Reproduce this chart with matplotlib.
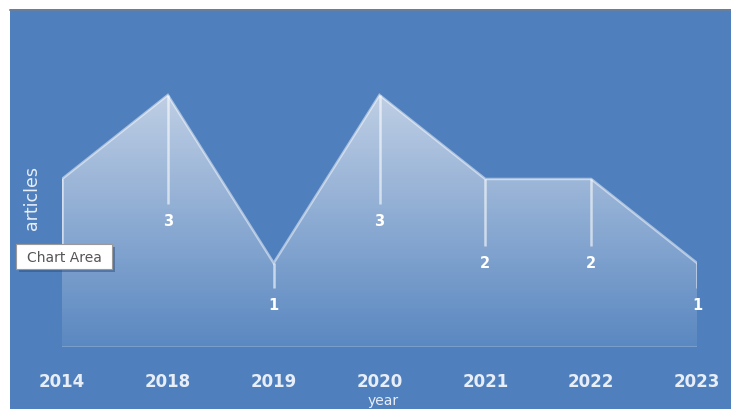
import matplotlib
matplotlib.use("Agg")
import matplotlib.pyplot as plt
import numpy as np
from matplotlib.patches import Rectangle, Polygon

years = ["2014", "2018", "2019", "2020", "2021", "2022", "2023"]
articles = [2, 3, 1, 3, 2, 2, 1]

W, H = 731, 410
fig = plt.figure(figsize=(W / 100, H / 100), dpi=100, facecolor="white")

# blue chart-area background
bg = Rectangle((10 / W, 0), 1 - 10 / W, 1 - 10 / H, transform=fig.transFigure,
               facecolor="#4f80bd", edgecolor="none", zorder=-10)
fig.add_artist(bg)
fig.add_artist(plt.Line2D([10 / W, 1], [1 - 10.5 / H, 1 - 10.5 / H],
                          transform=fig.transFigure, color="#6d7f99", lw=1.2,
                          zorder=-9))

x0, x1 = 62, 697
ybase, ppu = 348, 84
ymax = 3.6
ax = fig.add_axes([x0 / W, (H - ybase) / H, (x1 - x0) / W, ymax * ppu / H])
ax.set_zorder(1)
ax.set_facecolor("none")
ax.set_xlim(0, len(years) - 1)
ax.set_ylim(0, ymax)
for s in ax.spines.values():
    s.set_visible(False)

x = np.arange(len(years))
vals = np.array(articles, dtype=float)

# gradient area fill
verts = [(x[0], 0)] + list(zip(x, vals)) + [(x[-1], 0)]
poly = Polygon(verts, closed=True, facecolor="none", edgecolor="none")
ax.add_patch(poly)
ny = 256
alpha = np.linspace(0.07, 0.68, ny)
img = np.ones((ny, 2, 4))
img[..., 0] = 0.96
img[..., 1] = 0.96
img[..., 2] = 0.97
img[..., 3] = alpha[:, None]
im = ax.imshow(img, extent=[x[0], x[-1], 0, 3.0], origin="lower",
               aspect="auto", interpolation="bilinear", zorder=1)
im.set_clip_path(poly)

# top edge line
ax.plot(x, vals, color="white", alpha=0.5, lw=1.8, zorder=2,
        solid_joinstyle="miter")
ax.plot([x[0], x[-1]], [0, 0], color="white", alpha=0.22, lw=2, zorder=2)

# drop lines and labels
for xi, v in zip(x, vals):
    ax.plot([xi, xi], [v, v / 2 + 0.2], color="white", lw=1.8, alpha=0.6,
            zorder=3, solid_capstyle="butt")
    ax.text(xi, v / 2, f"{int(v)}", color="white", fontsize=10.5,
            fontweight="bold", ha="center", va="center", zorder=4)

ax.set_xticks(x)
ax.set_xticklabels(years, fontsize=12, color="#e8eef7", fontweight="bold",
                   family=["Liberation Sans Narrow", "DejaVu Sans"])
ax.tick_params(axis="x", length=0, pad=18)
ax.set_yticks([])

fig.text(383 / W, 1 - 401 / H, "year", color="#e8eef7", fontsize=10,
         ha="center", va="center",
         family=["Liberation Sans Narrow", "DejaVu Sans"])
fig.text(32 / W, 1 - 198 / H, "articles", color="#e8eef7", fontsize=12.5,
         rotation=90, ha="center", va="center",
         family=["Liberation Sans Narrow", "DejaVu Sans"])

# "Chart Area" tooltip
shadow = Rectangle((19 / W, 1 - 273 / H), 96 / W, 25 / H,
                   transform=fig.transFigure, facecolor="#2d4f7a",
                   alpha=0.5, edgecolor="none", zorder=9)
fig.add_artist(shadow)
tip = Rectangle((16 / W, 1 - 270 / H), 96 / W, 25 / H,
                transform=fig.transFigure, facecolor="white",
                edgecolor="#9a9a9a", lw=0.8, zorder=10)
fig.add_artist(tip)
fig.text(64 / W, 1 - 257.5 / H, "Chart Area", color="#555555", fontsize=10,
         ha="center", va="center", zorder=11,
         family=["Liberation Sans Narrow", "DejaVu Sans"])

fig.savefig("out.png", dpi=100, facecolor="white")
